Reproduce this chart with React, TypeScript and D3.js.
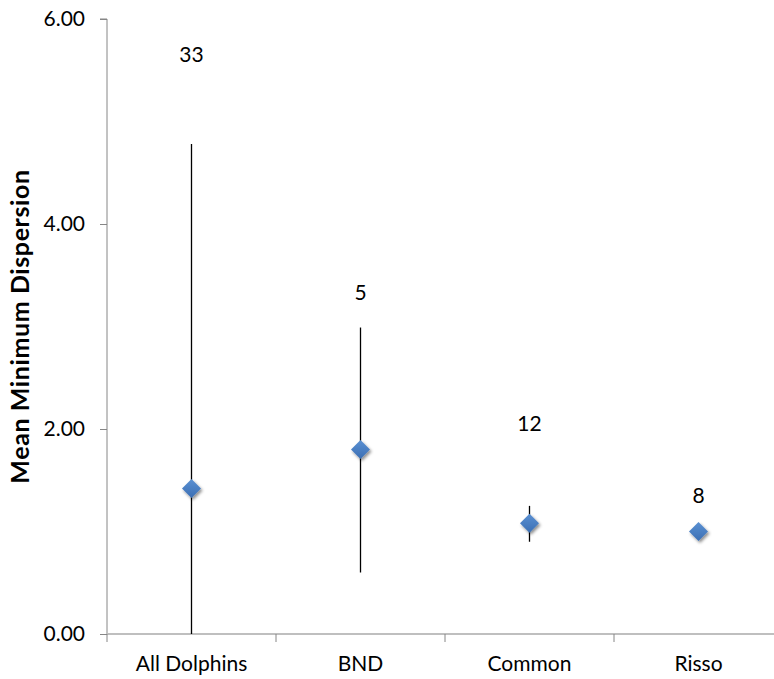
import React, { useEffect, useRef } from "react";
import * as d3 from "d3";

// chart data
const groups = ["All Dolphins", "BND", "Common", "Risso"];
const means = [1.42, 1.8, 1.08, 1.0];
const upper = [4.78, 2.99, 1.25, 1.0];
const lower = [0, 0.6, 0.9, 1.0];
const counts = ["33", "5", "12", "8"];
const countAt = [5.65, 3.33, 2.05, 1.35];
const yTicks = [0, 2, 4, 6];

export default function App() {
  const ref = useRef<SVGSVGElement>(null);

  useEffect(() => {
    const width = 774, height = 679;
    const svg = d3.select(ref.current);
    svg.selectAll("*").remove();
    svg.attr("width", width).attr("height", height);

    const left = 107, top = 19, bottom = 634;
    const font = "Lato, 'Open Sans', sans-serif";

    const x = d3.scaleBand().domain(groups).range([left, left + 169 * 4]);
    const y = d3.scaleLinear().domain([0, 6]).range([bottom, top]);

    const defs = svg.append("defs");
    const f = defs.append("filter").attr("id", "shadow")
      .attr("x", "-50%").attr("y", "-50%").attr("width", "200%").attr("height", "200%");
    f.append("feDropShadow").attr("dx", 1.5).attr("dy", 2).attr("stdDeviation", 1.6)
      .attr("flood-color", "#000").attr("flood-opacity", 0.45);
    const grad = defs.append("linearGradient").attr("id", "mk")
      .attr("x1", 0).attr("y1", 0).attr("x2", 0).attr("y2", 1);
    grad.append("stop").attr("offset", "0%").attr("stop-color", "#5a90d2");
    grad.append("stop").attr("offset", "100%").attr("stop-color", "#3b6fb4");

    // y axis
    const yAxis = svg.append("g").attr("transform", `translate(${left},0)`)
      .call(d3.axisLeft(y).tickValues(yTicks).tickSize(7).tickPadding(15).tickFormat(d3.format(".2f")));
    yAxis.select(".domain").attr("stroke", "#868686").attr("d", `M-7,${top}H0V${bottom}`);
    yAxis.selectAll(".tick line").attr("stroke", "#868686");
    yAxis.selectAll("text").attr("font-family", font).attr("font-size", 21).attr("fill", "#000");

    // x axis
    const xAxis = svg.append("g").attr("transform", `translate(0,${bottom})`);
    xAxis.append("line").attr("x1", left).attr("x2", width).attr("stroke", "#bfbfbf").attr("stroke-width", 2);
    xAxis.selectAll("line.tk").data(groups).join("line").attr("class", "tk")
      .attr("x1", d => x(d)!).attr("x2", d => x(d)!).attr("y1", 0).attr("y2", 8)
      .attr("stroke", "#868686");
    xAxis.selectAll("text").data(groups).join("text")
      .attr("x", d => x(d)! + x.bandwidth() / 2).attr("y", 37)
      .attr("text-anchor", "middle").attr("font-family", font).attr("font-size", 21)
      .text(d => d);

    // error bars
    svg.append("g").selectAll("line").data(groups).join("line")
      .attr("x1", d => x(d)! + x.bandwidth() / 2).attr("x2", d => x(d)! + x.bandwidth() / 2)
      .attr("y1", (d, i) => y(upper[i])).attr("y2", (d, i) => y(lower[i]))
      .attr("stroke", "#000").attr("stroke-width", 1.3);

    // markers
    const sym = d3.symbol().type(d3.symbolDiamond2).size(230);
    svg.append("g").selectAll("path").data(groups).join("path")
      .attr("d", sym)
      .attr("transform", (d, i) => `translate(${x(d)! + x.bandwidth() / 2},${y(means[i])})`)
      .attr("fill", "url(#mk)").attr("filter", "url(#shadow)");

    // sample sizes
    svg.append("g").selectAll("text").data(groups).join("text")
      .attr("x", d => x(d)! + x.bandwidth() / 2).attr("y", (d, i) => y(countAt[i]))
      .attr("dy", "0.35em").attr("text-anchor", "middle")
      .attr("font-family", font).attr("font-size", 21)
      .text((d, i) => counts[i]);

    // y title
    svg.append("text")
      .attr("transform", `translate(29,${(top + bottom) / 2}) rotate(-90)`)
      .attr("text-anchor", "middle").attr("font-family", font).attr("font-size", 25)
      .attr("letter-spacing", 0.6)
      .attr("font-weight", "bold").text("Mean Minimum Dispersion");
  }, []);

  return <svg ref={ref} style={{ position: "absolute", left: 0, top: 0 }} />;
}
